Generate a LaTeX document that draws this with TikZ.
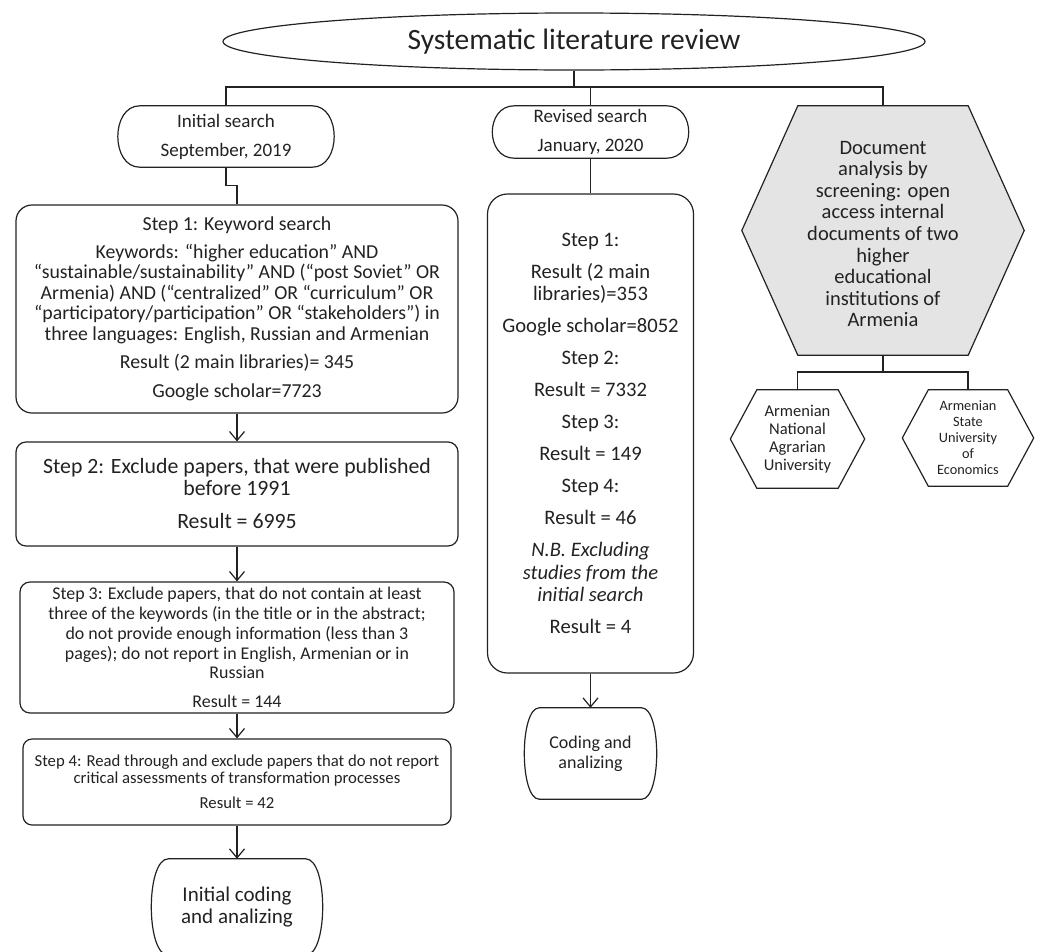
\documentclass[tikz,border=0pt]{standalone}
\usepackage{fontspec}
\setmainfont{Carlito}
\usetikzlibrary{shapes.geometric,arrows.meta,backgrounds}
\definecolor{ink}{HTML}{222222}
\definecolor{hexfill}{HTML}{E4E4E4}

\tikzset{
  lnk/.style={draw=ink, line width=1.2pt},
  arr/.style={lnk, -{Straight Barb[length=9pt,width=15pt]}},
  stepbox/.style={lnk, rounded corners=#1, inner sep=0pt, align=center, text=ink},
  stepbox/.default=10pt,
  plain/.style={inner sep=0pt, align=center, text=ink},
}

% terminator outline around a node: flat top and bottom, bulging sides
\newcommand\termoutline[2]{%
  \draw[lnk] ([xshift=#2]#1.north west) -- ([xshift=-#2]#1.north east)
    .. controls ([xshift=#2/3]#1.north east) and ([xshift=#2/3]#1.south east) .. ([xshift=-#2]#1.south east)
    -- ([xshift=#2]#1.south west)
    .. controls ([xshift=-#2/3]#1.south west) and ([xshift=-#2/3]#1.north west) .. cycle;}

% hexagon outline: node box is the flat top/bottom edge, side points pushed out
\newcommand\hexoutline[3]{%
  \path[#3] (#1.north west) -- (#1.north east) -- ([xshift=#2]#1.east)
    -- (#1.south east) -- (#1.south west) -- ([xshift=-#2]#1.west) -- cycle;}

\begin{document}
\begin{tikzpicture}[x=1pt,y=1pt]
\useasboundingbox (0,0) rectangle (1038,-951);

% title
\node[ellipse, lnk, minimum width=702pt, minimum height=57pt, inner sep=0pt, text=ink,
      font=\fontsize{29.5}{33}\selectfont] (title) at (574,-41.5) {Systematic literature review};

% branch heads
\node[plain, minimum width=216pt, minimum height=61pt, font=\fontsize{19}{20}\selectfont]
  (init) at (226,-136.5) {Initial search\\[9pt]September, 2019};
\node[plain, minimum width=196pt, minimum height=52pt, font=\fontsize{19}{20}\selectfont]
  (rev) at (590.5,-132) {Revised search\\[9pt]January, 2020};
\node[plain, minimum width=170pt, minimum height=249pt, font=\fontsize{20.5}{21.6}\selectfont]
  (doc) at (883,-230.5) {\rule{0pt}{20pt}Document\\analysis by\\screening: open\\access internal\\documents of two\\higher\\educational\\institutions of\\Armenia};
\begin{scope}[on background layer]
  \hexoutline{doc}{56pt}{lnk,fill=hexfill}
\end{scope}
\termoutline{init}{22pt}
\termoutline{rev}{22pt}

% initial search column
\node[stepbox=16pt, minimum width=442pt, minimum height=208pt, font=\fontsize{19.8}{20.5}\selectfont]
  (s1) at (237,-309) {Step 1: Keyword search\\[7.5pt]
  Keywords: “higher education” AND\\
  “sustainable/sustainability” AND (“post Soviet” OR\\
  Armenia) AND (“centralized” OR “curriculum” OR\\
  “participatory/participation” OR “stakeholders”) in\\
  three languages: English, Russian and Armenian\\[7.5pt]
  Result (2 main libraries)= 345\\[9pt]
  Google scholar=7723};
\node[stepbox=10pt, minimum width=442pt, minimum height=104pt, font=\fontsize{21.8}{22}\selectfont]
  (s2) at (237,-494) {Step 2: Exclude papers, that were published\\before 1991\\[11pt]Result = 6995};
\node[stepbox=10pt, minimum width=434pt, minimum height=131pt, font=\fontsize{17.9}{19.8}\selectfont]
  (s3) at (237,-647.5) {Step 3: Exclude papers, that do not contain at least\\
  three of the keywords (in the title or in the abstract;\\
  do not provide enough information (less than 3\\
  pages); do not report in English, Armenian or in\\
  Russian\\[9pt]Result = 144};
\node[stepbox=9pt, minimum width=428pt, minimum height=86pt, font=\fontsize{16.7}{17}\selectfont]
  (s4) at (237,-782) {Step 4: Read through and exclude papers that do not report\\
  critical assessments of transformation processes\\[8pt]Result = 42};
\node[plain, minimum width=171pt, minimum height=96pt, font=\fontsize{21}{22}\selectfont]
  (ic) at (237,-907) {Initial coding\\and analizing};
\termoutline{ic}{17pt}

% revised search column
\node[stepbox=20pt, minimum width=206pt, minimum height=479pt, font=\fontsize{20.6}{22.5}\selectfont]
  (mid) at (590.5,-433.5) {Step 1:\\[9.5pt]
  Result (2 main\\libraries)=353\\[9.5pt]
  Google scholar=8052\\[9.5pt]
  Step 2:\\[9.5pt]
  Result = 7332\\[9.5pt]
  Step 3:\\[9.5pt]
  Result = 149\\[9.5pt]
  Step 4:\\[9.5pt]
  Result = 46\\[9.5pt]
  \textit{N.B. Excluding}\\\textit{studies from the}\\\textit{initial search}\\[9.5pt]
  Result = 4};
\node[plain, minimum width=132pt, minimum height=91pt, font=\fontsize{18}{20}\selectfont]
  (cod) at (590.5,-753.5) {Coding and\\analizing};
\termoutline{cod}{15pt}

% institutions
\node[plain, minimum width=81pt, minimum height=98pt, font=\fontsize{16.5}{18}\selectfont]
  (h1) at (797.5,-439) {Armenian\\National\\Agrarian\\University};
\node[plain, minimum width=79pt, minimum height=96pt, font=\fontsize{14.3}{16}\selectfont]
  (h2) at (968,-438) {Armenian\\State\\University\\of\\Economics};
\hexoutline{h1}{26.5pt}{lnk}
\hexoutline{h2}{26pt}{lnk}

% connectors
\coordinate (busA) at (0,-87);
\coordinate (busB) at (0,-372);
\draw[lnk] (title.south) -- (title.south |- busA);
\draw[lnk] (init.north) |- (doc.north |- busA) -- (doc.north);
\draw[lnk] (rev.north) -- (rev.north |- busA);
\draw[lnk] (init.south) -- ++(0,-18) -| (s1.north);
\draw[arr] (s1.south) -- (s2.north);
\draw[arr] (s2.south) -- (s3.north);
\draw[arr] (s3.south) -- (s4.north);
\draw[arr] (s4.south) -- (ic.north);
\draw[lnk] (rev.south) -- (mid.north);
\draw[arr] (mid.south) -- (cod.north);
\draw[lnk] (doc.south) -- (doc.south |- busB);
\draw[lnk] (h1.north) |- (doc.south |- busB) -| (h2.north);
\end{tikzpicture}
\end{document}
